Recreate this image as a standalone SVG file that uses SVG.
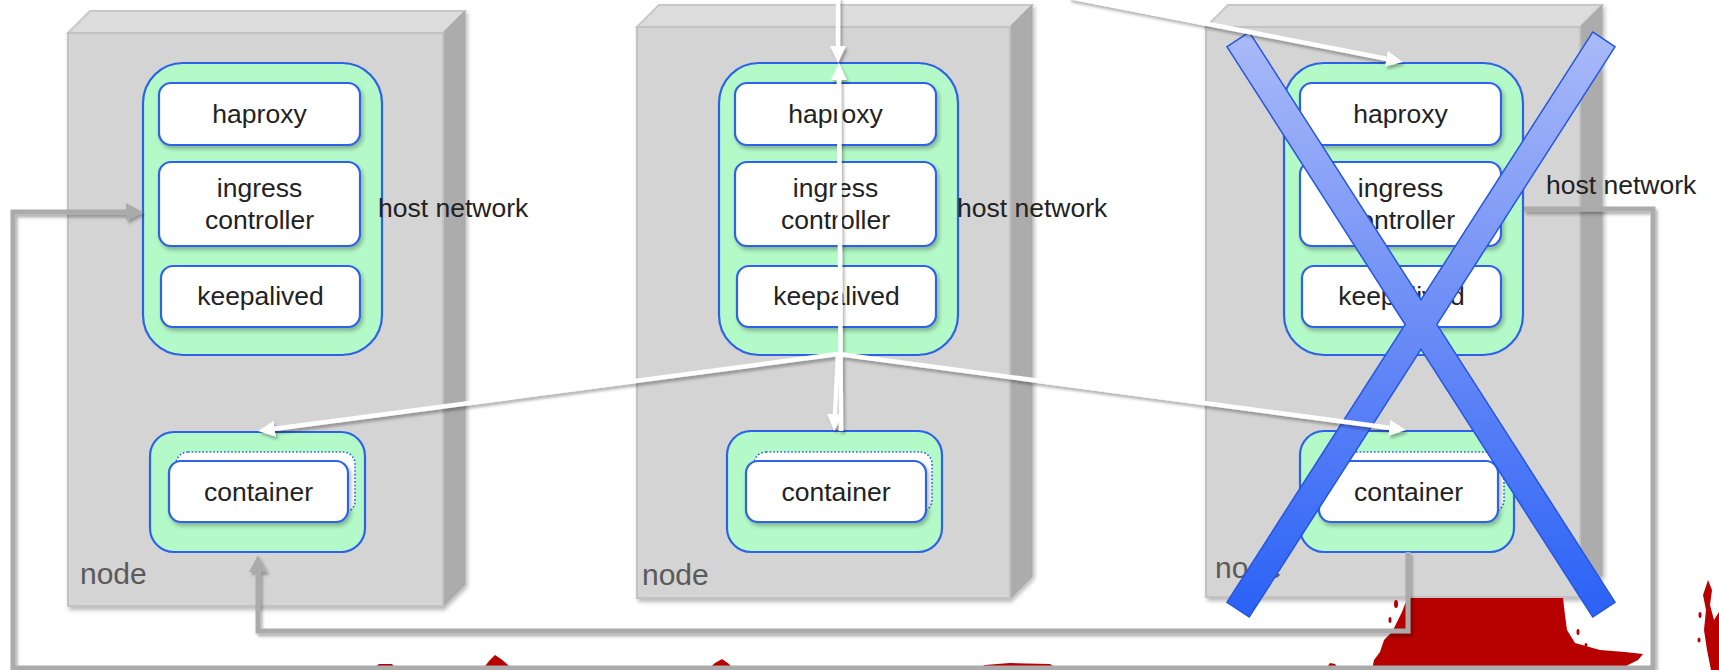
<svg xmlns="http://www.w3.org/2000/svg" width="1719" height="670" viewBox="0 0 1719 670">
<style>
.front{fill:#d4d4d4;stroke:#c2c2c2;stroke-width:2}
.top{fill:#dcdcdc;stroke:#c8c8c8;stroke-width:2}
.side{fill:#acacac;stroke:#a6a6a6;stroke-width:1}
.pod{fill:#b4fac8;stroke:#2d62e8;stroke-width:2.2}
.box{fill:#ffffff;stroke:#2d62e8;stroke-width:2.2}
.dot{fill:#ffffff;stroke:#2d62e8;stroke-width:1.6;stroke-dasharray:1.6 2}
.t{font-family:"Liberation Sans",Arial,sans-serif;font-size:26.5px;fill:#222222;text-anchor:middle}
.hn{font-family:"Liberation Sans",Arial,sans-serif;font-size:26.5px;fill:#222222}
.nd{font-family:"Liberation Sans",Arial,sans-serif;font-size:30px;fill:#5a5a5a}
.wl{fill:none;stroke:#ffffff;stroke-width:4.5}
.gl{fill:none;stroke:#ababab;stroke-width:5}
.red{fill:#b70000}
</style>
<defs>
<filter id="sh" x="-20%" y="-20%" width="140%" height="140%">
<feDropShadow dx="2" dy="3" stdDeviation="2" flood-color="#000" flood-opacity="0.28"/>
</filter>
<filter id="lsh" x="-5%" y="-5%" width="110%" height="110%">
<feDropShadow dx="2" dy="3" stdDeviation="1.8" flood-color="#000" flood-opacity="0.3"/>
</filter>
<marker id="aw" markerWidth="17" markerHeight="16" refX="0" refY="8" orient="auto" markerUnits="userSpaceOnUse">
<path d="M0,0 L17,8 L0,16 Z" fill="#ffffff"/>
</marker>
<marker id="ag" markerWidth="17" markerHeight="18" refX="0" refY="9" orient="auto" markerUnits="userSpaceOnUse">
<path d="M0,0 L17,9 L0,18 Z" fill="#ababab"/>
</marker>
<linearGradient id="xg" gradientUnits="userSpaceOnUse" x1="0" y1="33" x2="0" y2="616">
<stop offset="0" stop-color="#aabaf8"/>
<stop offset="0.5" stop-color="#6b8cf6"/>
<stop offset="1" stop-color="#2a62f6"/>
</linearGradient>
</defs>
<rect width="1719" height="670" fill="#ffffff"/>

<g id="node1">
<g filter="url(#sh)">
<polygon class="top" points="68,33 90,11 465,11 443,33"/>
<polygon class="side" points="443,33 465,11 465,584 443,606"/>
<rect class="front" x="68" y="33" width="375" height="573"/>
</g>
<text class="nd" x="80" y="584">node</text>
<g id="node1-host">
<rect class="pod" x="143" y="63" width="239" height="292" rx="40"/>
<g filter="url(#sh)">
<rect class="box" x="159" y="83" width="201" height="62" rx="12"/>
<rect class="box" x="159" y="162" width="201" height="84" rx="12"/>
<rect class="box" x="161" y="266" width="199" height="61" rx="12"/>
</g>
<text class="t" x="259.5" y="123">haproxy</text>
<text class="t" x="259.5" y="197">ingress</text>
<text class="t" x="259.5" y="229">controller</text>
<text class="t" x="260.5" y="305">keepalived</text>
<text class="hn" x="378" y="217">host network</text>
</g>
<g id="node1-pod">
<rect class="pod" x="150" y="432" width="215" height="120" rx="24"/>
<rect class="dot" x="176" y="452" width="179" height="61" rx="12"/>
<rect class="box" filter="url(#sh)" x="169" y="461" width="179" height="61" rx="12"/>
<text class="t" x="258.5" y="501">container</text>
</g>
</g>

<g id="node2">
<g filter="url(#sh)">
<polygon class="top" points="637,27 659,5 1032,5 1010,27"/>
<polygon class="side" points="1010,27 1032,5 1032,576 1010,598"/>
<rect class="front" x="637" y="27" width="373" height="571"/>
</g>
<text class="nd" x="642" y="585">node</text>
<g id="node2-host">
<rect class="pod" x="719" y="63" width="239" height="292" rx="40"/>
<g filter="url(#sh)">
<rect class="box" x="735" y="83" width="201" height="62" rx="12"/>
<rect class="box" x="735" y="162" width="201" height="84" rx="12"/>
<rect class="box" x="737" y="266" width="199" height="61" rx="12"/>
</g>
<text class="t" x="835.5" y="123">haproxy</text>
<text class="t" x="835.5" y="197">ingress</text>
<text class="t" x="835.5" y="229">controller</text>
<text class="t" x="836.5" y="305">keepalived</text>
<text class="hn" x="957" y="217">host network</text>
</g>
<g id="node2-pod">
<rect class="pod" x="727" y="431" width="215" height="121" rx="24"/>
<rect class="dot" x="754" y="452" width="178" height="60" rx="12"/>
<rect class="box" filter="url(#sh)" x="746" y="461" width="180" height="61" rx="12"/>
<text class="t" x="836" y="501">container</text>
</g>
</g>

<g id="node3">
<g filter="url(#sh)">
<polygon class="top" points="1206,27 1228,5 1602,5 1580,27"/>
<polygon class="side" points="1580,27 1602,5 1602,575 1580,597"/>
<rect class="front" x="1206" y="27" width="374" height="570"/>
</g>
<text class="nd" x="1215" y="578">node</text>
<g id="node3-host">
<rect class="pod" x="1284" y="63" width="239" height="292" rx="40"/>
<g filter="url(#sh)">
<rect class="box" x="1300" y="83" width="201" height="62" rx="12"/>
<rect class="box" x="1300" y="162" width="201" height="84" rx="12"/>
<rect class="box" x="1302" y="266" width="199" height="61" rx="12"/>
</g>
<text class="t" x="1400.5" y="123">haproxy</text>
<text class="t" x="1400.5" y="197">ingress</text>
<text class="t" x="1400.5" y="229">controller</text>
<text class="t" x="1401.5" y="305">keepalived</text>
<text class="hn" x="1546" y="194">host network</text>
</g>
<g id="node3-pod">
<rect class="pod" x="1300" y="431" width="214" height="121" rx="24"/>
<rect class="dot" x="1326" y="452" width="178" height="60" rx="12"/>
<rect class="box" filter="url(#sh)" x="1319" y="461" width="179" height="61" rx="12"/>
<text class="t" x="1408.5" y="501">container</text>
</g>
</g>

<g id="red-marks">
<path class="red" d="M1409,598 L1563,598 L1565,615 L1567,630 L1575,643 L1600,650 L1625,652 L1643,654 L1638,660 L1628,665 L1620,670 L1372,670 L1374,660 L1380,652 L1384,640 L1392,632 L1397,622 L1402,612 L1405,604 Z"/>
<ellipse class="red" cx="1396" cy="604" rx="2" ry="4"/>
<ellipse class="red" cx="1390" cy="620" rx="1.5" ry="3"/>
<ellipse class="red" cx="1578" cy="632" rx="1.5" ry="3"/>
<ellipse class="red" cx="1586" cy="645" rx="1.5" ry="2"/>
<path class="red" d="M372,670 L379,664 L392,664 L397,670 Z"/>
<path class="red" d="M482,670 L489,661 L495,655 L501,659 L507,664 L513,670 Z"/>
<path class="red" d="M707,670 L715,663 L722,659 L729,664 L734,670 Z"/>
<path class="red" d="M914,670 L925,666 L945,666 L949,670 Z"/>
<path class="red" d="M974,670 L985,665 L1010,663 L1050,664 L1059,670 Z"/>
<path class="red" d="M1325,670 L1330,663 L1335,664 L1339,670 Z"/>
<path class="red" d="M1708,580 L1712,590 L1710,605 L1714,620 L1719,612 L1719,670 L1711,670 L1707,650 L1704,630 L1706,610 L1703,595 Z"/>
<ellipse class="red" cx="1700" cy="615" rx="1.5" ry="3"/>
<ellipse class="red" cx="1699" cy="640" rx="1.5" ry="2.5"/>
</g>

<g id="connectors">
<g filter="url(#lsh)">
<path class="gl" d="M1524,209 L1653,209 L1653,668 L13,668 L13,212 L126,212" marker-end="url(#ag)"/>
<path class="gl" d="M1408,552 L1408,631 L258,631 L258,572" marker-end="url(#ag)"/>
</g>
</g>

<g id="cross">
<polygon points="1228,47 1249,33 1614,602 1593,616" fill="url(#xg)" stroke="#2455e0" stroke-width="3"/>
<polygon points="1593,33 1614,47 1249,616 1228,602" fill="url(#xg)" stroke="#2455e0" stroke-width="3"/>
<polygon points="1228,47 1249,33 1614,602 1593,616" fill="url(#xg)"/>
<polygon points="1593,33 1614,47 1249,616 1228,602" fill="url(#xg)"/>
</g>

<g id="traffic" filter="url(#lsh)">
<path class="wl" d="M838,-3 L838,46" marker-end="url(#aw)"/>
<path class="wl" d="M841,431 L839,80" marker-end="url(#aw)"/>
<path class="wl" d="M838,354 L835,414" marker-end="url(#aw)"/>
<path class="wl" d="M838,354 L274.9,428.8" marker-end="url(#aw)"/>
<path class="wl" d="M838,354 L1389.2,427.8" marker-end="url(#aw)"/>
<path class="wl" d="M1069.6,-3 L1386.3,58.7" marker-end="url(#aw)"/>
</g>
</svg>
